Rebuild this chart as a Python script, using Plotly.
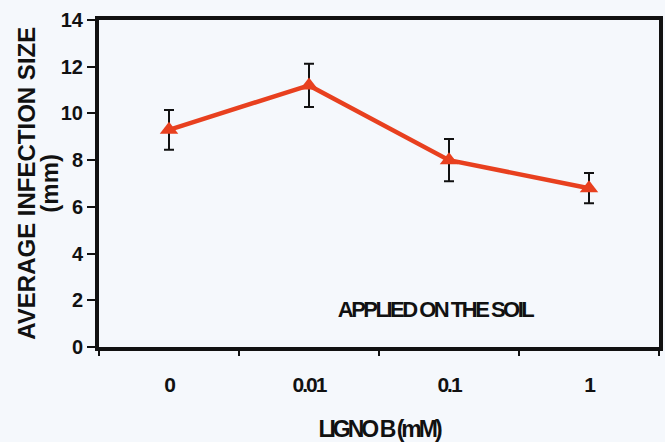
import plotly.graph_objects as go

# LIGNO B concentrations (mM) and mean infection size (mm) with error
doses = ["0", "0.01", "0.1", "1"]
mean_size = [9.3, 11.2, 8.0, 6.8]
err_size = [0.85, 0.93, 0.9, 0.65]
y_ticks = [0, 2, 4, 6, 8, 10, 12, 14]

bg = "#f5f8fc"
red = "#e8401f"
ink = "#111111"
font_main = "Liberation Sans"

fig = go.Figure()
fig.add_trace(go.Scatter(
    x=doses, y=mean_size,
    mode="lines+markers",
    line=dict(color=red, width=4.5),
    marker=dict(symbol="triangle-up", size=16, color=red),
    error_y=dict(type="data", array=err_size, color=ink,
                 thickness=2, width=5),
    showlegend=False,
))

# treatment note inside the plot
fig.add_annotation(
    x=1.9, y=1.6, xref="x", yref="y",
    text="APPLIED ON THE SOIL", showarrow=False,
    font=dict(family=font_main, size=22, color=ink, weight="bold"),
)

# two-line y title, drawn as rotated annotations for tight line spacing
fig.add_annotation(
    x=-0.13, y=0.5, xref="paper", yref="paper", textangle=-90,
    text="AVERAGE INFECTION SIZE", showarrow=False,
    xanchor="center", yanchor="middle",
    font=dict(family=font_main, size=24, color=ink, weight="bold"),
)
fig.add_annotation(
    x=-0.089, y=0.5, xref="paper", yref="paper", textangle=-90,
    text="(mm)", showarrow=False,
    xanchor="center", yanchor="middle",
    font=dict(family=font_main, size=24, color=ink, weight="bold"),
)

fig.update_layout(
    width=665, height=442,
    margin=dict(l=99, r=2, t=20, b=94),
    paper_bgcolor=bg, plot_bgcolor=bg,
    xaxis=dict(
        type="category", categoryorder="array", categoryarray=doses,
        range=[-0.5, 3.5], showgrid=False, zeroline=False,
        showline=True, linecolor=ink, linewidth=4, mirror=True,
        ticks="outside", tickson="boundaries", ticklen=5, tickwidth=1.5,
        tickcolor=ink, ticklabelstandoff=16,
        tickfont=dict(family=font_main, size=21, color=ink, weight="bold"),
        title=dict(text="LIGNO B (mM)", standoff=28,
                   font=dict(family=font_main, size=23, color=ink, weight="bold")),
    ),
    yaxis=dict(
        range=[0, 14], tickvals=y_ticks, showgrid=False, zeroline=False,
        showline=True, linecolor=ink, linewidth=4, mirror=True,
        ticks="outside", ticklen=8, tickwidth=2, tickcolor=ink,
        ticklabelstandoff=0,
        tickfont=dict(family=font_main, size=20, color=ink, weight="bold"),
    ),
)

# tighten the letter spacing of the condensed labels
squeeze_js = """
var gd = document.getElementById('{plot_id}');
function squeeze() {
  gd.querySelectorAll('.xtick text').forEach(function (t) {
    t.style.letterSpacing = '-2px';
  });
  gd.querySelectorAll('.g-xtitle text').forEach(function (t) {
    t.style.letterSpacing = '-3px';
  });
  gd.querySelectorAll('.annotation-text').forEach(function (t) {
    if (t.textContent === 'APPLIED ON THE SOIL') {
      t.style.letterSpacing = '-2.5px';
    }
  });
}
squeeze();
gd.on('plotly_afterplot', squeeze);
"""

fig.write_html("out.html", post_script=squeeze_js)
